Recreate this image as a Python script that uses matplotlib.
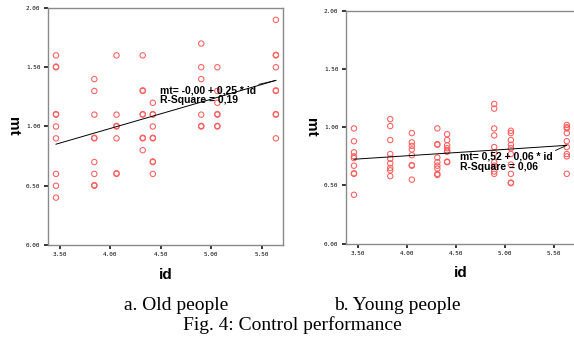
import matplotlib
matplotlib.use('Agg')
import matplotlib.pyplot as plt

# id levels and mt values
old_id = [3.46, 3.84, 4.06, 4.32, 4.42, 4.90, 5.06, 5.64]
old_mt = [
    [1.60, 1.50, 1.505, 1.10, 1.105, 1.00, 0.90, 0.60, 0.50, 0.40],
    [1.40, 1.30, 1.10, 0.90, 0.905, 0.70, 0.60, 0.50, 0.505],
    [1.60, 1.10, 1.00, 1.005, 0.90, 0.60, 0.605],
    [1.60, 1.30, 1.305, 1.10, 1.105, 0.90, 0.905, 0.80],
    [1.20, 1.10, 1.105, 1.00, 0.90, 0.905, 0.70, 0.705, 0.60],
    [1.70, 1.50, 1.40, 1.10, 1.00, 1.005],
    [1.50, 1.30, 1.20, 1.10, 1.105, 1.00, 1.005],
    [1.90, 1.60, 1.605, 1.50, 1.30, 1.305, 1.10, 1.105, 0.90],
]
young_id = [3.46, 3.83, 4.05, 4.31, 4.41, 4.89, 5.06, 5.63]
young_mt = [
    [0.99, 0.88, 0.785, 0.75, 0.735, 0.67, 0.60, 0.605, 0.42],
    [1.07, 1.01, 0.89, 0.77, 0.73, 0.69, 0.65, 0.63, 0.58],
    [0.95, 0.87, 0.84, 0.81, 0.76, 0.67, 0.675, 0.55],
    [0.99, 0.85, 0.855, 0.74, 0.70, 0.67, 0.645, 0.60, 0.59],
    [0.94, 0.89, 0.845, 0.82, 0.80, 0.79, 0.70, 0.705],
    [1.20, 1.16, 0.99, 0.93, 0.83, 0.78, 0.70, 0.67, 0.62, 0.60],
    [0.97, 0.95, 0.89, 0.85, 0.82, 0.77, 0.68, 0.60, 0.52, 0.525],
    [1.02, 1.00, 0.99, 0.95, 0.88, 0.83, 0.77, 0.75, 0.60],
]

# fitted lines as drawn (intercept, slope) and their labels
old_fit = (-0.004, 0.247)
young_fit = (0.535, 0.055)
old_label = 'mt= -0,00 + 0,25 * id\nR-Square = 0,19'
young_label = 'mt= 0,52 + 0,06 * id\nR-Square = 0,06'

xticks = [3.5, 4.0, 4.5, 5.0, 5.5]
yticks = [0.0, 0.5, 1.0, 1.5, 2.0]

fig = plt.figure(figsize=(5.74, 3.43), dpi=100)
ax1 = fig.add_axes([0.0828, 0.2857, 0.4108, 0.691])
ax2 = fig.add_axes([0.6023, 0.2895, 0.3995, 0.679])


def draw_panel(ax, ids, mts, fit, label, label_xy):
    for x, ys in zip(ids, mts):
        ax.scatter([x] * len(ys), ys, s=15, facecolors='none',
                   edgecolors='#ff5c5c', linewidths=0.75, zorder=3)
    x0, x1 = min(ids), max(ids)
    b0, b1 = fit
    ax.plot([x0, x1], [b0 + b1 * x0, b0 + b1 * x1], color='black',
            lw=0.7, zorder=4)
    ax.annotate(label, xy=(x1, b0 + b1 * x1), xytext=label_xy,
                textcoords='data', ha='left', va='top',
                family='Liberation Sans', fontweight='bold', fontsize=7.5,
                linespacing=0.98, zorder=5,
                arrowprops=dict(arrowstyle='-', color='black', lw=0.6,
                                relpos=(1.0, 1.0), shrinkA=0, shrinkB=0))

    ax.set_xlim(3.376, 5.714)
    ax.set_ylim(0, 2.0)
    ax.set_xticks(xticks)
    ax.set_yticks(yticks)
    ax.set_xticklabels(['%.2f' % v for v in xticks])
    ax.set_yticklabels(['%.2f' % v for v in yticks])
    ax.tick_params(direction='out', length=3.2, width=1.1, color='black',
                   labelsize=4.3, pad=2)
    for t in ax.get_xticklabels() + ax.get_yticklabels():
        t.set_family('DejaVu Sans Mono')
    for s in ax.spines.values():
        s.set_color('#8a8a8a')
        s.set_linewidth(1.0)
    ax.set_xlabel('id', family='Liberation Sans', fontweight='bold',
                  fontsize=11, labelpad=7.5)
    ax.set_ylabel('mt', family='Liberation Sans', fontweight='bold',
                  fontsize=11, rotation=270, va='center', labelpad=9)


draw_panel(ax1, old_id, old_mt, old_fit, old_label, (4.49, 1.35))
draw_panel(ax2, young_id, young_mt, young_fit, young_label, (4.54, 0.79))

fig.text(176 / 574, 1 - 305 / 343, 'a. Old people', ha='center', va='center',
         family='Liberation Serif', fontsize=14)
fig.text(397 / 574, 1 - 305 / 343, 'b. Young people', ha='center',
         va='center', family='Liberation Serif', fontsize=14)
fig.text(292.5 / 574, 1 - 325 / 343, 'Fig. 4: Control performance',
         ha='center', va='center', family='Liberation Serif', fontsize=14)

fig.savefig('out.png', dpi=100)
